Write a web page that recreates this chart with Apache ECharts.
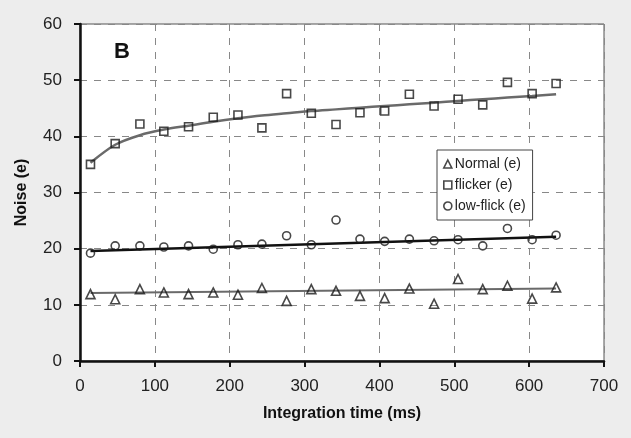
<!DOCTYPE html>
<html>
<head>
<meta charset="utf-8">
<script src="https://cdn.jsdelivr.net/npm/echarts@6/dist/echarts.min.js"></script>
<style>
  html, body { margin: 0; padding: 0; background: #ededed; }
  #chart { width: 631px; height: 438px; }
</style>
</head>
<body>
<div id="chart"></div>
<script>
// integration times (ms)
var times = [14, 47, 80, 112, 145, 178, 211, 243, 276, 309, 342, 374, 407, 440, 473, 505, 538, 571, 604, 636];
var normal = [11.9, 11.0, 12.8, 12.2, 11.9, 12.2, 11.8, 13.0, 10.7, 12.8, 12.5, 11.6, 11.2, 12.9, 10.2, 14.6, 12.8, 13.4, 11.1, 13.1];
var flicker = [35.0, 38.7, 42.2, 40.9, 41.7, 43.4, 43.8, 41.5, 47.6, 44.1, 42.1, 44.2, 44.5, 47.5, 45.4, 46.6, 45.6, 49.6, 47.6, 49.4];
var lowFlick = [19.2, 20.5, 20.5, 20.3, 20.5, 19.9, 20.7, 20.8, 22.3, 20.7, 25.1, 21.7, 21.3, 21.7, 21.4, 21.6, 20.5, 23.6, 21.6, 22.4];
// trend lines
var flickerTrend = [35.3, 38.5, 40.2, 41.2, 41.9, 42.6, 43.2, 43.7, 44.1, 44.5, 44.8, 45.1, 45.4, 45.7, 46.0, 46.3, 46.6, 46.9, 47.2, 47.5];
var lowTrend = [[14, 19.6], [636, 22.1]];
var normalTrend = [[14, 12.1], [636, 12.9]];

function pairs(ys) {
  return times.map(function (t, i) { return [t, ys[i]]; });
}

var font = '"Liberation Sans", Arial, sans-serif';
var hollow = { color: 'rgba(0,0,0,0)', borderColor: '#1a1a1a', borderWidth: 1.6 };

var chart = echarts.init(document.getElementById('chart'));
chart.setOption({
  backgroundColor: '#ededed',
  animation: false,
  title: {
    text: 'B', left: 109, top: 36,
    textStyle: { fontFamily: font, fontSize: 22, fontWeight: 'bold', color: '#111' }
  },
  legend: {
    orient: 'vertical',
    left: 437, top: 150,
    padding: [7, 7, 7, 6],
    itemGap: 7,
    itemWidth: 8, itemHeight: 8,
    backgroundColor: '#fff',
    borderColor: '#444', borderWidth: 1, borderRadius: 0,
    textStyle: { fontFamily: font, fontSize: 14, color: '#222', padding: [0, 0, 0, -2] },
    data: [
      { name: 'Normal (e)', icon: 'triangle', itemStyle: hollow },
      { name: 'flicker (e)', icon: 'rect', itemStyle: hollow },
      { name: 'low-flick (e)', icon: 'circle', itemStyle: hollow }
    ]
  },
  grid: {
    left: 80, right: 27, top: 24, bottom: 77,
    show: true, backgroundColor: '#fff', borderColor: '#555', borderWidth: 1
  },
  xAxis: {
    type: 'value', min: 0, max: 700, interval: 100,
    name: 'Integration time (ms)', nameLocation: 'middle', nameGap: 45,
    nameTextStyle: { fontFamily: font, fontSize: 16, fontWeight: 'bold', color: '#111' },
    axisLine: { lineStyle: { color: '#111', width: 2.5 } },
    axisTick: { show: true, length: 6, lineStyle: { color: '#111', width: 2 } },
    axisLabel: { fontFamily: font, fontSize: 17, color: '#222', margin: 17 },
    splitLine: { show: true, lineStyle: { color: '#888', type: [7, 7], width: 1 } }
  },
  yAxis: {
    type: 'value', min: 0, max: 60, interval: 10,
    name: 'Noise (e)', nameLocation: 'middle', nameGap: 50,
    nameTextStyle: { fontFamily: font, fontSize: 16, fontWeight: 'bold', color: '#111' },
    axisLine: { show: true, lineStyle: { color: '#111', width: 2.5 } },
    axisTick: { show: true, length: 6, lineStyle: { color: '#111', width: 2 } },
    axisLabel: { fontFamily: font, fontSize: 17, color: '#222', margin: 18 },
    splitLine: { show: true, lineStyle: { color: '#888', type: [7, 7], width: 1 } }
  },
  series: [
    {
      name: 'Normal (e)', type: 'scatter', symbol: 'triangle', symbolSize: 9,
      itemStyle: hollow, data: pairs(normal), z: 3
    },
    {
      name: 'flicker (e)', type: 'scatter', symbol: 'rect', symbolSize: 8,
      itemStyle: hollow, data: pairs(flicker), z: 3
    },
    {
      name: 'low-flick (e)', type: 'scatter', symbol: 'circle', symbolSize: 8,
      itemStyle: hollow, data: pairs(lowFlick), z: 3
    },
    {
      name: 'flicker trend', type: 'line', smooth: 0.3, showSymbol: false,
      lineStyle: { color: '#6a6a6a', width: 2.5 }, data: pairs(flickerTrend), z: 2
    },
    {
      name: 'low trend', type: 'line', showSymbol: false,
      lineStyle: { color: '#111', width: 2.5 }, data: lowTrend, z: 2
    },
    {
      name: 'normal trend', type: 'line', showSymbol: false,
      lineStyle: { color: '#6a6a6a', width: 2 }, data: normalTrend, z: 2
    }
  ]
});
</script>
</body>
</html>
